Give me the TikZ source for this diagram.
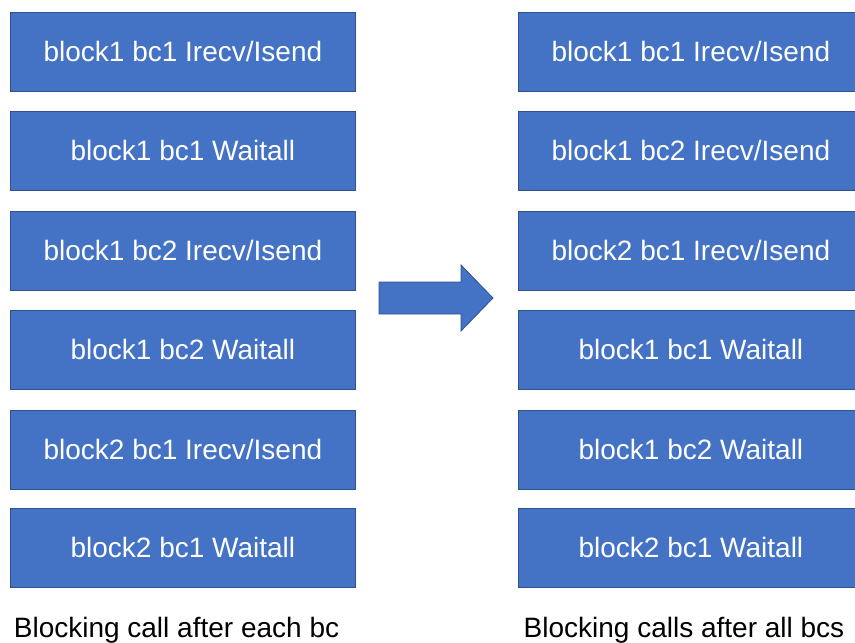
\documentclass[tikz,border=0pt]{standalone}
\usepackage{fontspec}
\setmainfont{Liberation Sans}
\definecolor{boxfill}{HTML}{4472C4}
\definecolor{boxline}{HTML}{2F528F}
\tikzset{
  blk/.style={draw=boxline, line width=0.8pt, fill=boxfill, text=white,
    minimum width=345pt, minimum height=79pt, inner sep=0pt,
    font=\fontsize{28}{32}\selectfont, anchor=north west},
  captext/.style={font=\fontsize{28}{32}\selectfont, anchor=base, inner sep=0pt},
}
\begin{document}
\begin{tikzpicture}[x=1pt,y=-1pt]
\useasboundingbox (0,0) rectangle (855,643);
\fill[white] (0,0) rectangle (855,643);
% left column
\node[blk] (l1) at (10,12) {block1 bc1 Irecv/Isend};
\node[blk] (l2) at (10,111) {block1 bc1 Waitall};
\node[blk] (l3) at (10,211) {block1 bc2 Irecv/Isend};
\node[blk] (l4) at (10,310) {block1 bc2 Waitall};
\node[blk] (l5) at (10,410) {block2 bc1 Irecv/Isend};
\node[blk] (l6) at (10,508) {block2 bc1 Waitall};
% right column
\node[blk] (r1) at (518,12) {block1 bc1 Irecv/Isend};
\node[blk] (r2) at (518,111) {block1 bc2 Irecv/Isend};
\node[blk] (r3) at (518,211) {block2 bc1 Irecv/Isend};
\node[blk] (r4) at (518,310) {block1 bc1 Waitall};
\node[blk] (r5) at (518,410) {block1 bc2 Waitall};
\node[blk] (r6) at (518,508) {block2 bc1 Waitall};
% big arrow
\draw[draw=boxline, line width=0.8pt, fill=boxfill]
  (379,282) -- (461,282) -- (461,265) -- (493,298) -- (461,331) -- (461,314) -- (379,314) -- cycle;
% captions
\node[captext] (c1) at (176.5,637) {Blocking call after each bc};
\node[captext] (c2) at (684,637) {Blocking calls after all bcs};
\end{tikzpicture}
\end{document}
